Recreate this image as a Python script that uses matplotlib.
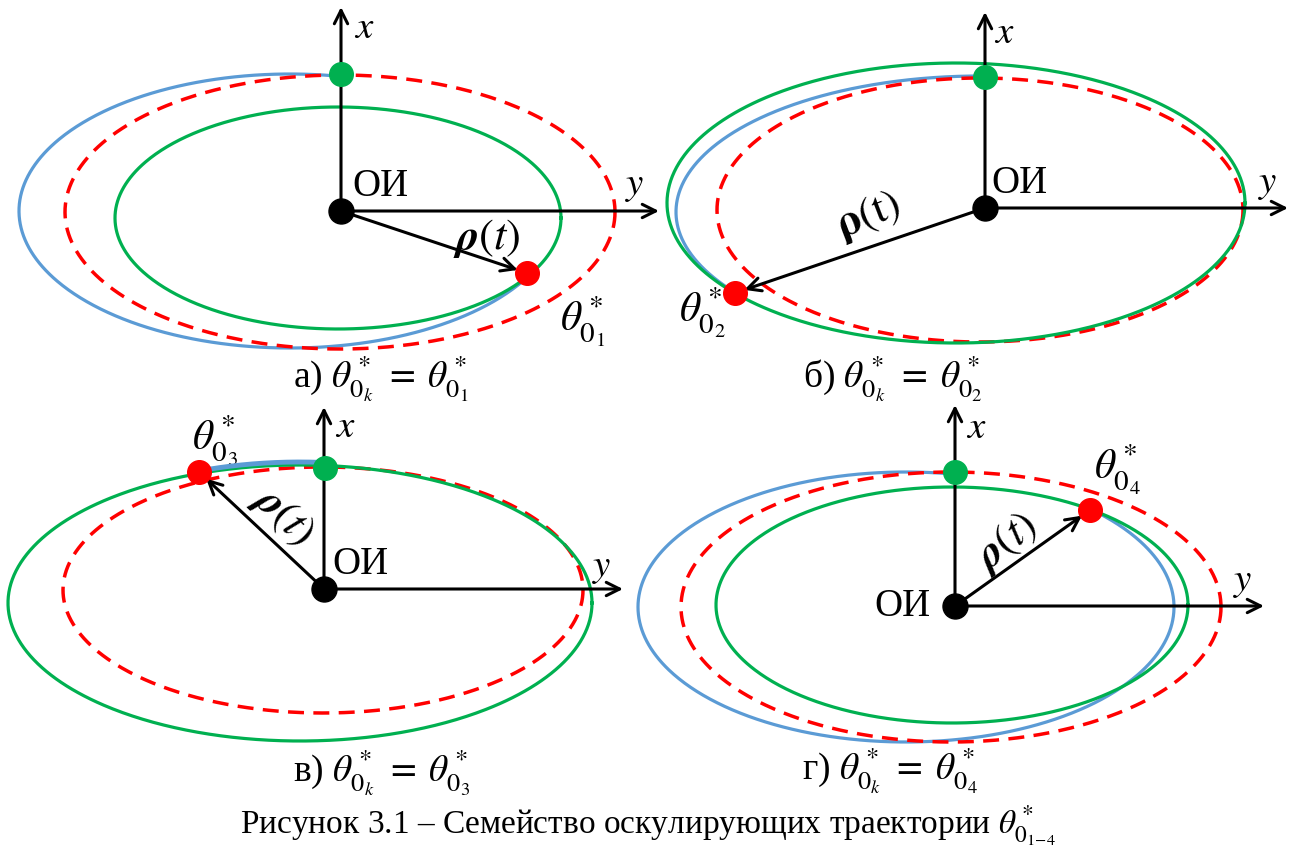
import numpy as np
import matplotlib
matplotlib.use("Agg")
import matplotlib.pyplot as plt

plt.rcParams['font.family'] = ['Liberation Serif', 'DejaVu Serif']
plt.rcParams['mathtext.fontset'] = 'stix'

W, H = 1296, 849

# ОИ origin of each panel and the ends of its x (up) and y (right) axes
origins = [(341, 211), (985, 208), (324, 589), (955, 606)]
x_tips = [7, 12, 407, 405]
y_tips = [659, 1288, 623, 1264]

# osculating ellipses per panel: (cx, cy, a, b)
green_ell = [(338, 218, 223, 111), (956, 203, 289, 140), (300, 603, 292, 138), (952, 605, 236, 118)]
red_ell = [(340, 212, 275, 137), (980, 210, 263, 132), (323, 590, 260, 123), (951, 607, 270, 135)]
blue_ell = [(290, 211, 271, 137), (980, 212, 304, 136), (300, 607, 292, 145), (906, 607, 268, 135)]

# points on the trajectory
green_pts = [(341, 74), (985, 77), (325, 468), (955, 472)]
red_pts = [(527, 273), (735, 293), (199, 472), (1090, 510)]

# labels
rho_pos = [(487, 238), (868, 216), (283, 516), (1006, 542)]
rho_rot = [0, 21, -44, 38]
rho_txt = [r'$\boldsymbol{\rho}(t)$', r'$\mathbf{\rho}(\mathrm{t})$',
           r'$\boldsymbol{\rho}(t)$', r'$\boldsymbol{\rho}(t)$']
theta_pos = [(583, 322), (702, 313), (215, 440), (1117, 470)]
theta_txt = [r'$\theta^*_{0_1}$', r'$\theta^*_{0_2}$', r'$\theta^*_{0_3}$', r'$\theta^*_{0_4}$']
oi_pos = [(352, 186), (991, 183), (332, 565), (931, 607)]
oi_ha = ['left', 'left', 'left', 'right']
xlab_pos = [(364, 28), (1004, 33), (345, 427), (976, 428)]
ylab_pos = [(635, 185), (1268, 183), (602, 567), (1243, 582)]
captions = [r'а) $\theta^*_{0_k}\;=\;\theta^*_{0_1}$', r'б) $\theta^*_{0_k}\;=\;\theta^*_{0_2}$',
            r'в) $\theta^*_{0_k}\;=\;\theta^*_{0_3}$', r'г) $\theta^*_{0_k}\;=\;\theta^*_{0_4}$']
cap_pos = [(381, 388), (893, 388), (382, 781), (890, 780)]
title = r'Рисунок 3.1 – Семейство оскулирующих траектории $\theta^*_{0_{1\!-\!4}}$'

GREEN = '#00B050'
BLUE = '#5B9BD5'
RED = '#FF0000'
LW = 2.3


def ell_xy(cx, cy, a, b, t0=0.0, t1=360.0):
    t = np.radians(np.linspace(t0, t1, 600))
    return cx + a * np.cos(t), cy + b * np.sin(t)


def param_angle(ell, pt):
    cx, cy, a, b = ell
    return np.degrees(np.arctan2((pt[1] - cy) / b, (pt[0] - cx) / a))


fig = plt.figure(figsize=(W / 100, H / 100), dpi=100)
ax = fig.add_axes([0, 0, 1, 1])
ax.set_xlim(0, W)
ax.set_ylim(H, 0)
ax.set_aspect('equal')
ax.axis('off')

for i in range(4):
    ox, oy = origins[i]

    # blue arc runs from the red point round to the green point
    t_red = param_angle(blue_ell[i], red_pts[i])
    t_grn = param_angle(blue_ell[i], green_pts[i])
    if t_grn < t_red:
        t_grn += 360
    bx, by = ell_xy(*blue_ell[i], t_red, t_grn)
    short_arc = (t_grn - t_red) < 60
    ax.plot(bx, by, color=BLUE, lw=LW + (1.2 if short_arc else 0),
            zorder=3.5 if short_arc else 2, solid_capstyle='round')

    rx, ry = ell_xy(*red_ell[i])
    ax.plot(rx, ry, color=RED, lw=LW + 0.2, ls=(0, (4.6, 2.7)), zorder=3)

    gx, gy = ell_xy(*green_ell[i])
    ax.plot(gx, gy, color=GREEN, lw=LW, zorder=3)

    # coordinate axes
    arrow = dict(arrowstyle='->', lw=2.2, color='black', mutation_scale=24,
                 shrinkA=0, shrinkB=0)
    ax.annotate('', xy=(ox, x_tips[i]), xytext=(ox, oy), arrowprops=arrow, zorder=4)
    ax.annotate('', xy=(y_tips[i], oy), xytext=(ox, oy), arrowprops=arrow, zorder=4)

    # radius vector to the red point
    rho_arrow = dict(arrowstyle='->', lw=2.2, color='black', mutation_scale=24,
                     shrinkA=0, shrinkB=7)
    ax.annotate('', xy=red_pts[i], xytext=(ox, oy), arrowprops=rho_arrow, zorder=4)

    ax.plot(ox, oy, 'o', color='black', ms=18, zorder=6)
    ax.plot(*green_pts[i], 'o', color=GREEN, ms=17, zorder=6)
    ax.plot(*red_pts[i], 'o', color=RED, ms=17, zorder=6)

    ax.text(*xlab_pos[i], r'$x$', fontsize=28, ha='center', va='center')
    ax.text(*ylab_pos[i], r'$y$', fontsize=28, ha='center', va='center')
    ax.text(*oi_pos[i], 'ОИ', fontsize=28, ha=oi_ha[i], va='center')
    ax.text(*rho_pos[i], rho_txt[i], fontsize=32, ha='center', va='center',
            rotation=rho_rot[i], rotation_mode='anchor')
    ax.text(*theta_pos[i], theta_txt[i], fontsize=30, ha='center', va='center')
    ax.text(*cap_pos[i], captions[i], fontsize=27, ha='center', va='baseline')

ax.text(648, 833, title, fontsize=24, ha='center', va='baseline')

fig.savefig('out.png', dpi=100)
